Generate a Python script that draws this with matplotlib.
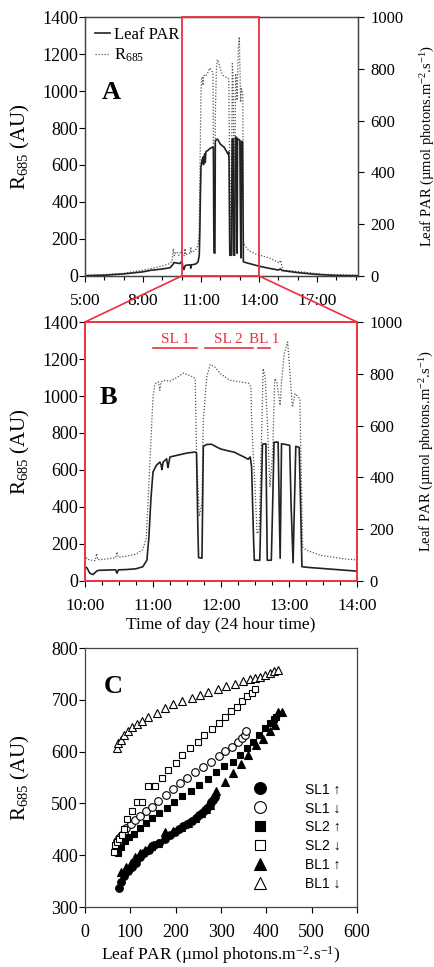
import matplotlib
matplotlib.use("Agg")
import matplotlib.pyplot as plt
from matplotlib.patches import ConnectionPatch

# ---- time course (decimal hours) ----
par_time = [5.0, 6.0, 7.0, 8.0, 8.4, 9.0, 9.4, 9.55, 9.6, 9.75, 9.9, 10.0, 10.03, 10.07,
            10.12, 10.17, 10.2, 10.3, 10.45, 10.47, 10.49, 10.6, 10.75, 10.85, 10.91, 10.94,
            10.97, 11.0, 11.05, 11.1, 11.12, 11.13, 11.15, 11.2, 11.21, 11.22, 11.25, 11.35,
            11.5, 11.62, 11.64, 11.66, 11.67, 11.72, 11.73, 11.74, 11.79, 11.86, 11.99, 12.13,
            12.2, 12.25, 12.33, 12.40, 12.43, 12.45, 12.48, 12.49, 12.57, 12.59, 12.61, 12.66,
            12.67, 12.68, 12.74, 12.76, 12.78, 12.84, 12.855, 12.87, 12.88, 12.89, 13.01, 13.03,
            13.06, 13.08, 13.10, 13.15, 13.17, 13.19, 13.3, 13.6, 14.0, 14.5, 15.0, 15.1, 15.2,
            16.0, 17.0, 18.0, 19.1]
par_value = [1, 3, 8, 16, 22, 27, 32, 45, 52, 50, 48, 56, 50, 30,
             25, 38, 41, 42, 43, 30, 43, 44, 47, 55, 80, 170,
             320, 421, 447, 459, 448, 430, 459, 472, 455, 438, 479, 485,
             494, 498, 494, 200, 90, 88, 300, 520, 527, 528, 510, 501,
             497, 490, 480, 470, 479, 440, 150, 80, 80, 300, 528, 530,
             300, 80, 80, 300, 536, 536, 300, 88, 300, 530, 524, 300,
             70, 300, 520, 516, 300, 55, 52, 46, 38, 30, 23, 27, 21,
             13, 6, 2, 1]

r685_time = [5.0, 6.0, 7.0, 7.85, 8.5, 9.05, 9.4, 9.5, 9.57, 9.62, 9.68, 9.74, 9.85, 10.0,
             10.03, 10.1, 10.15, 10.17, 10.19, 10.3, 10.45, 10.47, 10.49, 10.6, 10.75, 10.85,
             10.9, 10.93, 10.96, 11.0, 11.03, 11.08, 11.10, 11.12, 11.15, 11.25, 11.35, 11.45,
             11.59, 11.62, 11.64, 11.68, 11.72, 11.74, 11.79, 11.84, 11.91, 11.99, 12.13, 12.28,
             12.40, 12.44, 12.45, 12.50, 12.53, 12.56, 12.59, 12.62, 12.65, 12.68, 12.72, 12.76,
             12.79, 12.82, 12.87, 12.89, 12.93, 12.98, 13.00, 13.05, 13.09, 13.14, 13.16, 13.20,
             13.26, 13.46, 13.8, 14.05, 14.57, 14.92, 15.05, 15.12, 15.2, 15.26, 16.12, 17.33,
             18.7, 19.1]
r685_value = [4, 8, 14, 29, 42, 56, 68, 80, 148, 110, 125, 131, 112, 139,
              118, 112, 110, 148, 115, 118, 125, 157, 128, 133, 145, 170,
              230, 450, 689, 995, 1067, 1076, 1031, 1075, 1085, 1080, 1100, 1124,
              1103, 1094, 690, 350, 420, 868, 1103, 1170, 1157, 1121, 1085, 1076,
              1070, 1049, 869, 508, 256, 270, 689, 1148, 1100, 869, 508, 700,
              1094, 1076, 950, 1076, 1229, 1292, 1193, 940, 1013, 995, 977, 184,
              166, 139, 120, 112, 96, 77, 70, 85, 45, 32, 23, 9,
              5, 4]

# light treatments marked in panel B (start, end in hours)
periods = {"SL 1": (11.0, 11.65), "SL 2": (11.76, 12.47), "BL 1": (12.55, 12.72)}

# ---- panel C: R685 vs leaf PAR ----
sl1_up_par = [74, 79, 87, 94, 103, 112, 121, 131, 141, 148, 153, 163, 176, 187, 198, 207,
              216, 226, 235, 244, 252, 259, 265, 270, 275, 279, 283, 287]
sl1_up_r = [337, 348, 359, 369, 378, 386, 396, 404, 411, 417, 419, 424, 432, 439, 445, 450,
            456, 461, 466, 471, 477, 482, 487, 492, 497, 502, 507, 513]
sl1_dn_par = [68, 71, 75, 79, 85, 91, 101, 110, 121, 135, 147, 162, 178, 194, 210, 226,
              243, 260, 278, 295, 309, 324, 337, 346, 352, 356]
sl1_dn_r = [420, 428, 433, 438, 443, 453, 461, 469, 476, 486, 494, 504, 516, 527, 539, 550,
            560, 570, 580, 591, 601, 609, 619, 626, 632, 639]
sl2_up_par = [73, 80, 88, 96, 108, 121, 134, 147, 163, 180, 197, 215, 233, 252, 272, 290,
              307, 326, 342, 358, 371, 384, 397, 407, 416, 422]
sl2_up_r = [404, 415, 428, 436, 441, 452, 462, 471, 482, 492, 502, 514, 525, 536, 547, 560,
            572, 581, 594, 607, 618, 632, 645, 655, 663, 666]
sl2_dn_par = [63, 66, 71, 76, 81, 87, 92, 103, 114, 126, 140, 154, 169, 184, 200, 215, 232,
              249, 263, 280, 296, 309, 322, 335, 346, 357, 368, 376]
sl2_dn_r = [407, 420, 425, 432, 440, 450, 470, 486, 502, 502, 534, 534, 550, 565, 579, 594,
            607, 619, 633, 644, 655, 666, 678, 687, 697, 707, 713, 721]
bl1_up_par = [79, 90, 101, 110, 121, 132, 145, 160, 177, 195, 212, 228, 243, 256, 266, 276,
              290, 309, 327, 344, 360, 377, 392, 408, 420, 426, 434]
bl1_up_r = [367, 377, 386, 396, 404, 410, 418, 424, 444, 447, 455, 463, 472, 482, 490, 497,
            525, 541, 559, 577, 593, 612, 624, 640, 652, 677, 677]
bl1_dn_par = [70, 73, 79, 87, 94, 103, 114, 125, 140, 158, 176, 195, 213, 235, 254, 272,
              294, 312, 331, 349, 364, 375, 386, 397, 408, 418, 425]
bl1_dn_r = [608, 617, 623, 633, 640, 648, 654, 660, 666, 674, 684, 692, 698, 703, 710, 716,
            721, 727, 730, 736, 740, 743, 745, 748, 752, 756, 758]

plt.rcParams['font.family'] = ['Liberation Serif', 'DejaVu Serif']
plt.rcParams['mathtext.fontset'] = 'custom'
plt.rcParams['mathtext.rm'] = 'Liberation Serif'
plt.rcParams['mathtext.it'] = 'Liberation Serif:italic'

RED = '#ec3040'
DARK = '#444444'
r_label = r'R$_{\mathrm{685}}$ (AU)'
par_label = 'Leaf PAR (µmol photons.m$^{-2}$.s$^{-1}$)'

fig = plt.figure(figsize=(4.35, 9.67), dpi=100)


def style_axes(ax, ax2, spine_color, spine_lw):
    for a in (ax, ax2):
        for s in a.spines.values():
            s.set_color(spine_color)
            s.set_linewidth(spine_lw)
    ax.tick_params(axis='y', direction='out', length=4, width=0.8, labelsize=13, pad=1)
    ax.tick_params(axis='x', direction='out', length=4, width=0.8, labelsize=12.5, pad=8.5)
    ax.tick_params(axis='x', which='minor', direction='out', length=3, width=0.8)
    ax2.tick_params(axis='y', direction='out', length=4, width=0.8, labelsize=12, pad=5)
    ax.set_ylim(0, 1400)
    ax.set_yticks(range(0, 1401, 200))
    ax2.set_ylim(0, 1000)
    ax2.set_yticks(range(0, 1001, 200))
    ax.set_ylabel(r_label, fontsize=15)
    ax.yaxis.set_label_coords(-0.195, 0.5)
    ax2.set_ylabel(par_label, fontsize=10.5)
    ax2.yaxis.set_label_coords(1.222, 0.5)


def draw_series(ax, ax2):
    l2, = ax.plot(r685_time, r685_value, color='#555555', lw=0.9,
                  linestyle=(0, (1, 1.4)), label=r'R$_{\mathrm{685}}$')
    l1, = ax2.plot(par_time, par_value, color='#222222', lw=1.2, label='Leaf PAR')
    return l1, l2


# ---- panel A ----
axA = fig.add_axes([0.1954, 0.7146, 0.6276, 0.2678])
axA2 = axA.twinx()
h1, h2 = draw_series(axA, axA2)
style_axes(axA, axA2, DARK, 0.9)
axA.set_xlim(5, 19.12)
axA.set_xticks([5, 8, 11, 14, 17])
axA.set_xticklabels([f"{h}:00" for h in [5, 8, 11, 14, 17]])
axA.set_xticks(range(5, 20), minor=True)
axA2.axvspan(10, 14, facecolor='none', edgecolor=RED, lw=1.3, clip_on=False, zorder=5)
axA2.legend([h1, h2], ['Leaf PAR', r'R$_{\mathrm{685}}$'], loc='upper left', frameon=False,
            fontsize=12, handlelength=0.9, handletextpad=0.25, labelspacing=0.2,
            borderaxespad=0.3, borderpad=0.3)
axA.text(0.095, 0.71, 'A', transform=axA.transAxes, fontsize=19, fontweight='bold',
         ha='center', va='center')

# ---- panel B ----
axB = fig.add_axes([0.1954, 0.3992, 0.6253, 0.2678])
axB2 = axB.twinx()
draw_series(axB, axB2)
style_axes(axB, axB2, RED, 1.2)
axB.set_xlim(10, 14)
axB.set_xticks([10, 11, 12, 13, 14])
axB.set_xticklabels([f"{h}:00" for h in [10, 11, 12, 13, 14]])
axB.set_xticks([10 + 0.25 * i for i in range(17)], minor=True)
axB.set_xlabel('Time of day (24 hour time)', fontsize=12.5)
axB.xaxis.set_label_coords(0.5, -0.138)
for name, (t0, t1) in periods.items():
    axB.plot([t0, t1], [1262, 1262], color=RED, lw=1.2)
    axB.text((t0 + t1) / 2, 1270, name, color=RED, fontsize=11, ha='center', va='bottom')
axB.text(0.085, 0.71, 'B', transform=axB.transAxes, fontsize=19, fontweight='bold',
         ha='center', va='center')

# zoom connectors
for xa, xb in [(10, 0), (14, 1)]:
    con = ConnectionPatch(xyA=(xa, 0), coordsA=axA.transData, xyB=(xb, 1),
                          coordsB=axB.transAxes, color=RED, lw=1.2)
    fig.add_artist(con)

# ---- panel C ----
axC = fig.add_axes([0.1954, 0.062, 0.6253, 0.2678])
for s in axC.spines.values():
    s.set_color(DARK)
    s.set_linewidth(0.9)
mk = dict(linestyle='none', markeredgecolor='black', markeredgewidth=0.8)
axC.plot(sl1_up_par, sl1_up_r, marker='o', ms=5.5, color='black', label='SL1 ↑', **mk)
axC.plot(sl1_dn_par, sl1_dn_r, marker='o', ms=5.5, markerfacecolor='white', color='black',
         label='SL1 ↓', **mk)
axC.plot(sl2_up_par, sl2_up_r, marker='s', ms=5, color='black', label='SL2 ↑', **mk)
axC.plot(sl2_dn_par, sl2_dn_r, marker='s', ms=5, markerfacecolor='white', color='black',
         label='SL2 ↓', **mk)
axC.plot(bl1_up_par, bl1_up_r, marker='^', ms=5.5, color='black', label='BL1 ↑', **mk)
axC.plot(bl1_dn_par, bl1_dn_r, marker='^', ms=5.5, markerfacecolor='white', color='black',
         label='BL1 ↓', **mk)
axC.set_xlim(0, 600)
axC.set_ylim(300, 800)
axC.set_xticks(range(0, 601, 100))
axC.set_yticks(range(300, 801, 100))
axC.tick_params(axis='y', direction='out', length=4, width=0.8, labelsize=13, pad=1)
axC.tick_params(axis='x', direction='out', length=4, width=0.8, labelsize=13, pad=8.5)
axC.set_ylabel(r_label, fontsize=15)
axC.yaxis.set_label_coords(-0.195, 0.5)
axC.set_xlabel(par_label, fontsize=12.5)
axC.xaxis.set_label_coords(0.5, -0.145)
axC.legend(loc='lower right', bbox_to_anchor=(0.985, 0.015), frameon=False, markerscale=1.55,
           handletextpad=2.2, labelspacing=0.35,
           prop={'family': ['Liberation Sans', 'DejaVu Sans'], 'size': 10})
axC.text(0.103, 0.853, 'C', transform=axC.transAxes, fontsize=19, fontweight='bold',
         ha='center', va='center')

fig.savefig('out.png', dpi=100)
